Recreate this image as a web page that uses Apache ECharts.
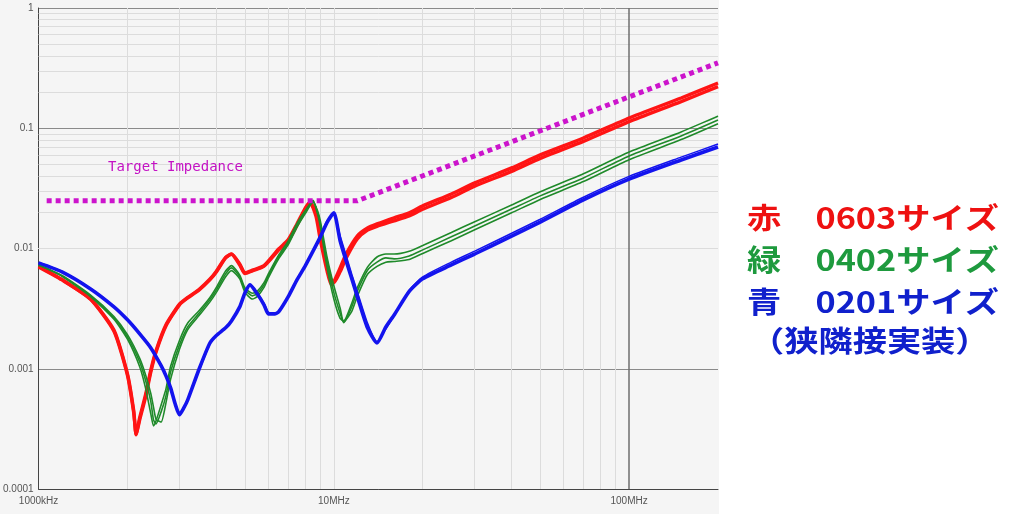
<!DOCTYPE html>
<html><head><meta charset="utf-8">
<script src="https://cdn.jsdelivr.net/npm/echarts@6/dist/echarts.min.js"></script>
<style>html,body{margin:0;padding:0;background:#fff}#c{width:1024px;height:514px}</style>
</head><body><div id="c"></div>
<script>
// Frequencies in MHz, impedance in ohms
const xTickValues = [1, 10, 100];
const xTickLabels = ['1000kHz', '10MHz', '100MHz'];
const yTickValues = [0.0001, 0.001, 0.01, 0.1, 1];
const yTickLabels = ['0.0001', '0.001', '0.01', '0.1', '1'];
const xMinorGrid = [2, 3, 4, 5, 6, 7, 8, 9, 10, 20, 30, 40, 50, 60, 70, 80, 90];
const xMajorGrid = [100];
const yMinorGrid = [0.0002,0.0003,0.0004,0.0005,0.0006,0.0007,0.0008,0.0009,
                    0.002,0.003,0.004,0.005,0.006,0.007,0.008,0.009,
                    0.02,0.03,0.04,0.05,0.06,0.07,0.08,0.09,
                    0.2,0.3,0.4,0.5,0.6,0.7,0.8,0.9];

const targetF = [1.065, 12, 200];
const targetZ = [0.0249, 0.0249, 0.35];

// Red: 0603 size
const redF = [1, 1.2, 1.5, 1.8, 2.0, 2.1, 2.14, 2.2, 2.3, 2.4, 2.5, 2.7, 3.0, 3.2, 3.5, 3.8, 4.0, 4.3, 4.5, 4.8, 5.0, 5.3, 5.8, 6.5, 7.0, 7.5, 8.0, 8.3, 8.7, 9.0, 9.5, 9.8, 10, 10.5, 11, 12, 13, 14, 16, 18, 20, 25, 30, 40, 50, 70, 100, 150, 200];
const redZa = [0.00703, 0.00548, 0.0038, 0.0021, 0.000907, 0.000447, 0.000282, 0.000376, 0.000573, 0.000942, 0.00138, 0.00227, 0.0034, 0.00388, 0.00453, 0.00548, 0.00639, 0.00835, 0.00902, 0.00745, 0.00627, 0.0066, 0.0072, 0.0099, 0.0118, 0.016, 0.0217, 0.0243, 0.0185, 0.0118, 0.0064, 0.005, 0.0053, 0.0069, 0.009, 0.0127, 0.0148, 0.016, 0.018, 0.0198, 0.0226, 0.0284, 0.0351, 0.0468, 0.06, 0.083, 0.1218, 0.1785, 0.2379];
const redZb = [0.00712, 0.00552, 0.00378, 0.00205, 0.00088, 0.00043, 0.000285, 0.000392, 0.0006, 0.00098, 0.00142, 0.00232, 0.00345, 0.00392, 0.00458, 0.00555, 0.00648, 0.00842, 0.00895, 0.0073, 0.00618, 0.00652, 0.00712, 0.0097, 0.0115, 0.0156, 0.0212, 0.024, 0.02, 0.0135, 0.0072, 0.0054, 0.0052, 0.0064, 0.0083, 0.012, 0.0142, 0.0153, 0.017, 0.0187, 0.0212, 0.0266, 0.033, 0.0438, 0.0562, 0.0778, 0.1135, 0.1665, 0.222];

// Green: 0402 size
const greenF = [1, 1.2, 1.5, 1.8, 2.0, 2.2, 2.3, 2.4, 2.45, 2.5, 2.6, 2.7, 2.8, 3.0, 3.2, 3.5, 3.8, 4.0, 4.3, 4.5, 4.8, 5.0, 5.3, 5.5, 5.8, 6.0, 6.5, 7.0, 7.5, 8.0, 8.5, 8.8, 9.0, 9.5, 10, 10.5, 10.8, 11.5, 12, 13, 14, 15, 16, 18, 20, 25, 30, 40, 50, 70, 100, 150, 200];
const greenZa = [0.00735, 0.00588, 0.00398, 0.00258, 0.00176, 0.00104, 0.0007, 0.00042, 0.000335, 0.00037, 0.0005, 0.00068, 0.00105, 0.00172, 0.0024, 0.00305, 0.0039, 0.00475, 0.0065, 0.0072, 0.006, 0.0047, 0.00425, 0.0044, 0.0052, 0.00615, 0.0088, 0.0115, 0.0162, 0.0206, 0.0252, 0.0195, 0.0152, 0.0068, 0.0038, 0.00262, 0.0025, 0.0035, 0.0047, 0.007, 0.0085, 0.009, 0.009, 0.0095, 0.0106, 0.0136, 0.0167, 0.023, 0.0296, 0.0418, 0.0635, 0.0932, 0.1262];
const greenZb = [0.00731, 0.00592, 0.00404, 0.00265, 0.00184, 0.00114, 0.000809, 0.000531, 0.000376, 0.000348, 0.000438, 0.000595, 0.000942, 0.00158, 0.00223, 0.00291, 0.00374, 0.00453, 0.00615, 0.0069, 0.00581, 0.00453, 0.00404, 0.0042, 0.00498, 0.00592, 0.00852, 0.0111, 0.0157, 0.0201, 0.0249, 0.0201, 0.016, 0.0075, 0.0043, 0.0029, 0.00241, 0.00327, 0.0044, 0.0066, 0.0077, 0.00835, 0.0082, 0.00868, 0.00974, 0.0125, 0.0154, 0.0213, 0.0274, 0.0386, 0.0588, 0.0863, 0.1172];
const greenZc = [0.00727, 0.00596, 0.0041, 0.00272, 0.00192, 0.00122, 0.0009, 0.00062, 0.00048, 0.00038, 0.00036, 0.00052, 0.00082, 0.00145, 0.00212, 0.00278, 0.00358, 0.00432, 0.00582, 0.00655, 0.0056, 0.00432, 0.0038, 0.00398, 0.00475, 0.0057, 0.0082, 0.0107, 0.015, 0.0195, 0.0243, 0.0207, 0.017, 0.0083, 0.0049, 0.0032, 0.00245, 0.003, 0.004, 0.0061, 0.0071, 0.0077, 0.0078, 0.0081, 0.0091, 0.0116, 0.0143, 0.0198, 0.0256, 0.036, 0.0548, 0.0805, 0.1092];

// Blue: 0201 size
const blueF = [1, 1.2, 1.5, 1.8, 2.0, 2.2, 2.4, 2.6, 2.7, 2.8, 2.9, 3.0, 3.1, 3.2, 3.5, 3.8, 4.0, 4.3, 4.5, 4.8, 5.0, 5.2, 5.5, 5.8, 6.0, 6.3, 6.5, 7.0, 7.5, 8.0, 8.5, 9.0, 9.5, 10, 10.5, 11, 11.5, 12, 13, 14, 15, 16, 18, 20, 25, 30, 40, 50, 70, 100, 150, 200];
const blueZa = [0.00759, 0.00639, 0.00461, 0.00327, 0.00255, 0.00195, 0.00149, 0.00106, 0.000873, 0.000694, 0.000511, 0.000414, 0.00047, 0.000551, 0.001, 0.00163, 0.00189, 0.00219, 0.0025, 0.00327, 0.00428, 0.00498, 0.0042, 0.0034, 0.00286, 0.00286, 0.00297, 0.00396, 0.00548, 0.00717, 0.0095, 0.0125, 0.0166, 0.0198, 0.0116, 0.0079, 0.0056, 0.004, 0.00219, 0.00164, 0.00223, 0.0028, 0.0044, 0.0056, 0.0073, 0.009, 0.0127, 0.0166, 0.0254, 0.0378, 0.0545, 0.0699];
const blueZb = [0.00765, 0.00645, 0.00466, 0.00331, 0.00258, 0.00198, 0.00151, 0.00108, 0.00089, 0.00071, 0.000525, 0.00042, 0.000468, 0.000545, 0.00097, 0.0016, 0.00188, 0.00218, 0.0025, 0.0033, 0.00432, 0.00505, 0.0043, 0.0035, 0.00296, 0.0029, 0.003, 0.004, 0.00552, 0.00725, 0.0096, 0.0128, 0.0172, 0.0192, 0.0128, 0.0088, 0.0061, 0.0044, 0.0024, 0.00168, 0.00214, 0.00275, 0.0045, 0.0058, 0.0077, 0.0095, 0.0134, 0.0175, 0.0267, 0.0398, 0.0575, 0.074];

const legendRows = ['赤　0603サイズ', '緑　0402サイズ', '青　0201サイズ', '（狭隣接実装）'];
const legendColors = ['#ee1111', '#1e9a3e', '#1020cc', '#1020cc'];

function zip(f, z) { return f.map((v, i) => [v, z[i]]); }

const chart = echarts.init(document.getElementById('c'), null, {renderer: 'canvas', width: 1024, height: 514});

const legendY = [218, 260, 302, 341];
const legendX = [747, 747, 747, 750];

function curve(name, f, z, color, width) {
  return {type: 'line', name: name, data: zip(f, z), showSymbol: false, smooth: 0.2, z: 3,
    lineStyle: {color: color, width: width}};
}

const option = {
  animation: false,
  backgroundColor: '#ffffff',
  grid: {left: 35, right: 306, top: 8, bottom: 25, containLabel: false},
  xAxis: {
    type: 'log', logBase: 10, min: 1, max: 200,
    axisLine: {show: true, onZero: false, lineStyle: {color: '#444', width: 1}},
    axisTick: {show: false},
    splitLine: {show: false},
    axisLabel: {
      fontSize: 10, color: '#555', margin: 7, fontFamily: 'Liberation Sans',
      showMaxLabel: false,
      formatter: function (v) {
        for (let i = 0; i < xTickValues.length; i++) {
          if (Math.abs(Math.log10(v) - Math.log10(xTickValues[i])) < 1e-6) return xTickLabels[i];
        }
        return '';
      }
    }
  },
  yAxis: {
    type: 'log', logBase: 10, min: 0.0001, max: 1,
    axisLine: {show: true, onZero: false, lineStyle: {color: '#444', width: 1}},
    axisTick: {show: false},
    splitLine: {show: true, lineStyle: {color: '#8a8a8a', width: 1}},
    axisLabel: {
      fontSize: 10, color: '#555', margin: 5, fontFamily: 'Liberation Sans',
      formatter: function (v) {
        for (let i = 0; i < yTickValues.length; i++) {
          if (Math.abs(Math.log10(v) - Math.log10(yTickValues[i])) < 1e-6) return yTickLabels[i];
        }
        return '';
      }
    }
  },
  graphic: {
    elements: [
      {type: 'rect', z: -100, silent: true, shape: {x: 0, y: 0, width: 719, height: 514}, style: {fill: '#f5f5f5'}},
      {type: 'text', x: 108, y: 167, z: 10, style: {text: 'Target Impedance', fill: '#c412c4', font: '14px "DejaVu Sans Mono"', verticalAlign: 'middle'}}
    ].concat(legendRows.map((t, i) => ({
      type: 'text', x: legendX[i], y: legendY[i], scaleX: 1.18, z: 10,
      style: {text: t, fill: legendColors[i], font: 'bold 29px "Noto Sans CJK JP"', verticalAlign: 'middle', x: 0, y: 0}
    })))
  },
  series: [
    {
      type: 'line', name: 'grid', data: [], z: 1, silent: true,
      markLine: {
        silent: true, symbol: 'none', z: 1, animation: false,
        label: {show: false},
        lineStyle: {color: '#dcdcdc', width: 1, type: 'solid'},
        emphasis: {disabled: true},
        data: xMinorGrid.map(v => ({xAxis: v}))
          .concat(yMinorGrid.map(v => ({yAxis: v})))
          .concat(xMajorGrid.map(v => ({xAxis: v, lineStyle: {color: '#6e6e6e', width: 1.5}})))
      }
    },
    {type: 'line', name: 'target', data: zip(targetF, targetZ), showSymbol: false, z: 4,
      lineStyle: {color: '#cc14cc', width: 5, type: [5, 4], cap: 'butt'}},
    curve('red a', redF, redZa, '#ff1414', 3.4),
    curve('red b', redF, redZb, '#ff1414', 3.4),
    curve('green a', greenF, greenZa, '#1f8a2a', 1.6),
    curve('green b', greenF, greenZb, '#1f8a2a', 1.6),
    curve('green c', greenF, greenZc, '#1f8a2a', 1.6),
    curve('blue a', blueF, blueZa, '#1414ee', 3.6),
    curve('blue b', blueF, blueZb, '#1414ee', 1.5)
  ]
};
chart.setOption(option);
</script>
</body></html>
